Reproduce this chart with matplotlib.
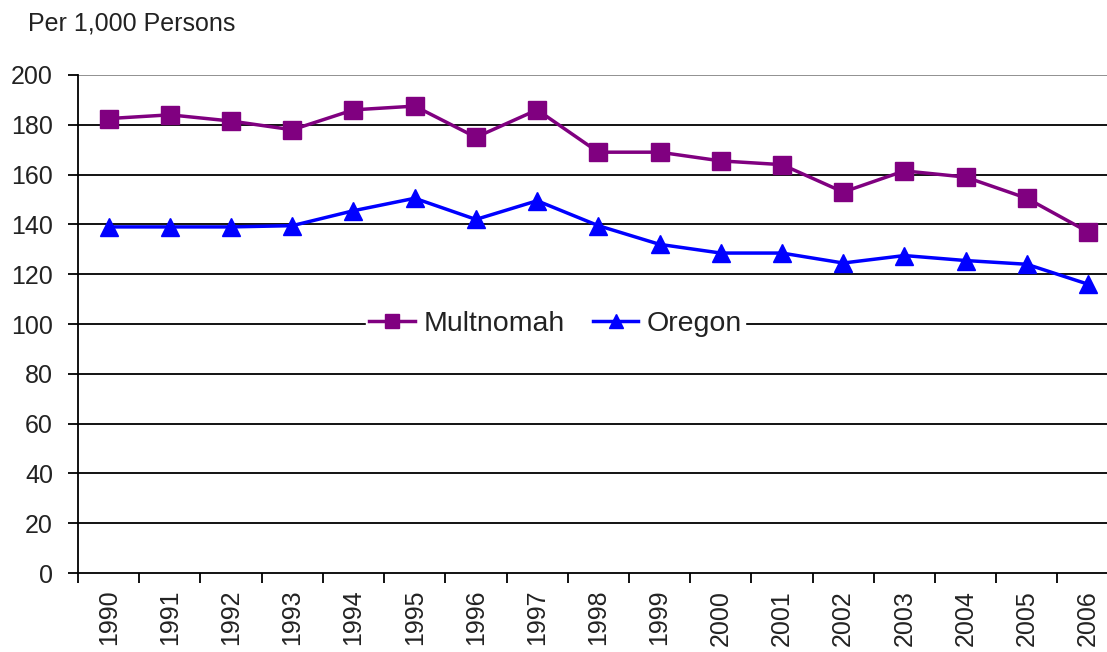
import numpy as np
import matplotlib.pyplot as plt

plt.rcParams['font.family'] = ['Liberation Sans', 'DejaVu Sans']

## Data
years = ['1990', '1991', '1992', '1993', '1994', '1995', '1996', '1997', '1998',
         '1999', '2000', '2001', '2002', '2003', '2004', '2005', '2006']
multnomah = [182.5, 184, 181.5, 178, 186, 187.5, 175, 186, 169,
             169, 165.5, 164, 153, 161.5, 159, 150.5, 137]
oregon = [139, 139, 139, 139.5, 145.5, 150.5, 142, 149.5, 139.5,
          132, 128.5, 128.5, 124.5, 127.5, 125.5, 124, 116]
yticks = np.arange(0, 201, 20)

x = np.arange(len(years))

fig = plt.figure(figsize=(11.07, 6.52), dpi=100)
# the original is cropped on the right, so the axes run past the figure edge
ax = fig.add_axes([0.0705, 0.121, 0.94, 0.764])

for y in yticks[1:]:
    ax.axhline(y, color='black' if y < 200 else '#888888', lw=1.3, zorder=1)

ax.plot(x, multnomah, color='#800080', lw=2.5, marker='s', ms=13,
        label='Multnomah', zorder=3)
ax.plot(x, oregon, color='#0000FF', lw=2.5, marker='^', ms=13,
        label='Oregon', zorder=3)

ax.set_xlim(-0.5, len(years) - 0.5)
ax.set_ylim(0, 200)
ax.set_yticks(yticks)
ax.tick_params(axis='y', labelsize=18, length=7, width=1.3, direction='out',
               pad=11, labelcolor='#222222')

ax.set_xticks(x)
ax.set_xticklabels(years, rotation=90)
ax.set_xticks(np.arange(-0.5, len(years), 1), minor=True)
ax.tick_params(axis='x', which='major', length=0, labelsize=18, pad=12,
               labelcolor='#222222')
ax.tick_params(axis='x', which='minor', length=7, width=1.3, direction='out')

for side in ['top', 'right']:
    ax.spines[side].set_visible(False)
for side in ['left', 'bottom']:
    ax.spines[side].set_linewidth(1.3)

leg = ax.legend(loc='center', ncol=2, frameon=True, fontsize=20.5,
                handlelength=1.6, columnspacing=1.0, handletextpad=0.3,
                borderpad=0.1, borderaxespad=0, labelcolor='#222222')
leg.get_frame().set_edgecolor('white')
leg.get_frame().set_facecolor('white')
leg.get_frame().set_alpha(1)
leg.set_zorder(5)
for h in leg.legend_handles:
    h.set_markersize(10)

# legend sits on the 100 gridline, a little left of the axes centre
leg.set_bbox_to_anchor((0.459, 100), transform=ax.get_yaxis_transform())

fig.text(28 / 1107, 1 - 23 / 652, 'Per 1,000 Persons', fontsize=18,
         va='center', ha='left', color='#222222')

fig.savefig('out.png', dpi=100)
